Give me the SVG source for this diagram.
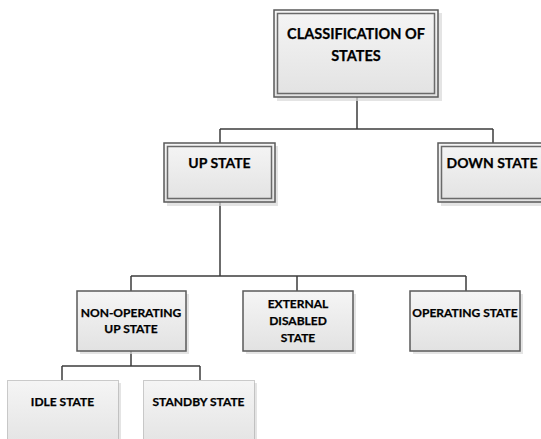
<svg xmlns="http://www.w3.org/2000/svg" width="541" height="439" viewBox="0 0 541 439">
<defs>
<linearGradient id="g" x1="0" y1="0" x2="0" y2="1">
<stop offset="0" stop-color="#f5f5f5"/>
<stop offset="1" stop-color="#e2e2e2"/>
</linearGradient>
</defs>
<style>
.sh{fill:#d9d9d9;opacity:0.7}
.box{fill:url(#g);stroke:#5a5a5a;stroke-width:1.5}
.inner{fill:none;stroke:#6a6a6a;stroke-width:1.5}
.dot{fill:url(#g);stroke:#9a9a9a;stroke-width:1;stroke-dasharray:1 1}
.t{font-family:Lato,"Liberation Sans",sans-serif;font-weight:bold;fill:#000;stroke:#000;stroke-width:0.25;text-anchor:middle}
.conn{fill:none;stroke:#3c3c3c;stroke-width:1.5}
</style>
<rect width="541" height="439" fill="#ffffff"/>
<g id="connectors">
<path class="conn" d="M357 97 V129 M220 129 H493 M220 129 V143 M493 129 V143"/>
<path class="conn" d="M220 202 V276 M131 276 H466 M131 276 V291 M297 276 V291 M466 276 V291"/>
<path class="conn" d="M131 351 V366 M62 366 H200 M62 366 V380 M200 366 V380"/>
</g>
<g id="classification">
<rect class="sh" x="277" y="13" width="165" height="88"/>
<rect class="box" x="274" y="10" width="164" height="87"/>
<rect class="inner" x="277.5" y="13.5" width="157" height="80"/>
<text class="t" x="356" y="39" font-size="14.5">CLASSIFICATION OF</text>
<text class="t" x="356" y="61" font-size="14.5">STATES</text>
</g>
<g id="up">
<rect class="sh" x="167" y="146" width="111" height="60"/>
<rect class="box" x="164" y="143" width="111" height="59"/>
<rect class="inner" x="167.5" y="146.5" width="104" height="52"/>
<text class="t" x="219.5" y="168" font-size="14">UP STATE</text>
</g>
<g id="down">
<rect class="sh" x="441" y="146" width="111" height="60"/>
<rect class="box" x="438" y="143" width="111" height="59"/>
<rect class="inner" x="441.5" y="146.5" width="104" height="52"/>
<text class="t" x="492" y="168" font-size="14">DOWN STATE</text>
</g>
<g id="nonop">
<rect class="sh" x="80" y="294" width="109" height="60"/>
<rect class="box" x="77" y="291" width="109" height="60"/>
<text class="t" x="131" y="317" font-size="12">NON-OPERATING</text>
<text class="t" x="131" y="333" font-size="12">UP STATE</text>
</g>
<g id="external">
<rect class="sh" x="246" y="294" width="110" height="60"/>
<rect class="box" x="243" y="291" width="110" height="60"/>
<text class="t" x="298" y="308" font-size="12">EXTERNAL</text>
<text class="t" x="298" y="325" font-size="12">DISABLED</text>
<text class="t" x="298" y="342" font-size="12">STATE</text>
</g>
<g id="operating">
<rect class="sh" x="413" y="294" width="110" height="60"/>
<rect class="box" x="410" y="291" width="110" height="60"/>
<text class="t" x="465" y="317" font-size="12">OPERATING STATE</text>
</g>
<g id="idle">
<rect class="sh" x="10" y="383" width="111" height="70"/>
<rect class="dot" x="7.5" y="380.5" width="111" height="70"/>
<text class="t" x="62.5" y="406" font-size="12">IDLE STATE</text>
</g>
<g id="standby">
<rect class="sh" x="146" y="383" width="111" height="70"/>
<rect class="dot" x="143.5" y="380.5" width="111" height="70"/>
<text class="t" x="198.5" y="406" font-size="12">STANDBY STATE</text>
</g>
</svg>
